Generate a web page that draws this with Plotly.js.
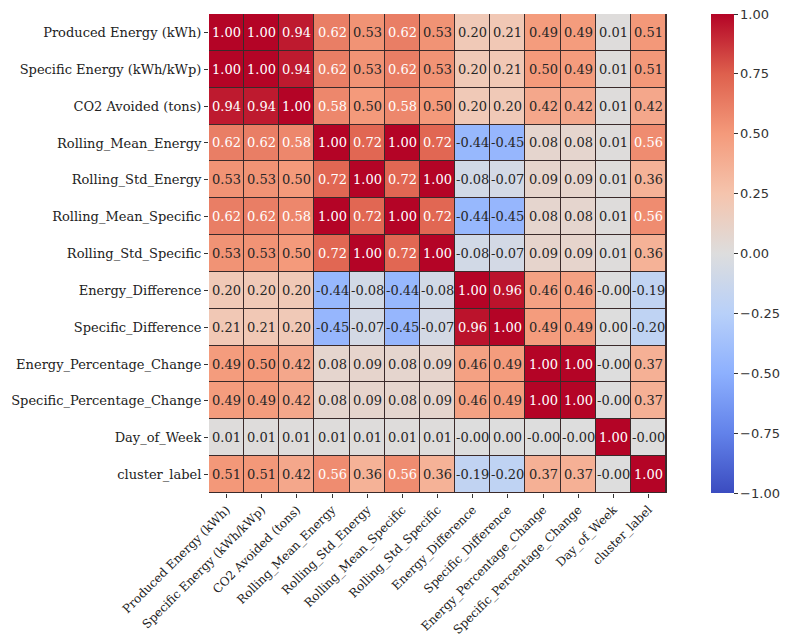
<!DOCTYPE html>
<html><head><meta charset="utf-8">
<script src="https://cdn.plot.ly/plotly-3.0.1.min.js"></script>
<style>html,body{margin:0;padding:0;background:#fff}#c{width:793px;height:640px}</style>
</head><body><div id="c"></div>
<script>
const yLabels = ["Produced Energy (kWh)","Specific Energy (kWh/kWp)","CO2 Avoided (tons)","Rolling_Mean_Energy","Rolling_Std_Energy","Rolling_Mean_Specific","Rolling_Std_Specific","Energy_Difference","Specific_Difference","Energy_Percentage_Change","Specific_Percentage_Change","Day_of_Week","cluster_label"];
const xLabels = yLabels.slice();
const corr = [
 [1.00,1.00,0.94,0.62,0.53,0.62,0.53,0.20,0.21,0.49,0.49,0.01,0.51],
 [1.00,1.00,0.94,0.62,0.53,0.62,0.53,0.20,0.21,0.50,0.49,0.01,0.51],
 [0.94,0.94,1.00,0.58,0.50,0.58,0.50,0.20,0.20,0.42,0.42,0.01,0.42],
 [0.62,0.62,0.58,1.00,0.72,1.00,0.72,-0.44,-0.45,0.08,0.08,0.01,0.56],
 [0.53,0.53,0.50,0.72,1.00,0.72,1.00,-0.08,-0.07,0.09,0.09,0.01,0.36],
 [0.62,0.62,0.58,1.00,0.72,1.00,0.72,-0.44,-0.45,0.08,0.08,0.01,0.56],
 [0.53,0.53,0.50,0.72,1.00,0.72,1.00,-0.08,-0.07,0.09,0.09,0.01,0.36],
 [0.20,0.20,0.20,-0.44,-0.08,-0.44,-0.08,1.00,0.96,0.46,0.46,-0.001,-0.19],
 [0.21,0.21,0.20,-0.45,-0.07,-0.45,-0.07,0.96,1.00,0.49,0.49,0.001,-0.20],
 [0.49,0.50,0.42,0.08,0.09,0.08,0.09,0.46,0.49,1.00,1.00,-0.001,0.37],
 [0.49,0.49,0.42,0.08,0.09,0.08,0.09,0.46,0.49,1.00,1.00,-0.001,0.37],
 [0.01,0.01,0.01,0.01,0.01,0.01,0.01,-0.001,0.001,-0.001,-0.001,1.00,-0.001],
 [0.51,0.51,0.42,0.56,0.36,0.56,0.36,-0.19,-0.20,0.37,0.37,-0.001,1.00]
];
const cbTicks = [1.0,0.75,0.5,0.25,0,-0.25,-0.5,-0.75,-1.0];

const coolwarm = [
 [0.0,'rgb(59,76,192)'],[0.125,'rgb(98,130,234)'],[0.25,'rgb(141,176,254)'],
 [0.375,'rgb(184,208,249)'],[0.5,'rgb(221,221,221)'],[0.625,'rgb(245,196,173)'],
 [0.75,'rgb(244,154,123)'],[0.875,'rgb(222,96,77)'],[1.0,'rgb(180,4,38)']
];
const fmt = v => (v < 0 ? '-' : '') + Math.abs(v).toFixed(2);
const ann = [];
corr.forEach((row,i)=>row.forEach((v,j)=>{
  ann.push({x:xLabels[j], y:yLabels[i], text:fmt(v), showarrow:false,
    font:{family:'DejaVu Serif', size:13, color: v>=0.55 ? '#ffffff' : '#262626'}});
}));
const trace = {type:'heatmap', z:corr, x:xLabels, y:yLabels, zmin:-1, zmax:1,
  colorscale:coolwarm, xgap:1, ygap:1, hoverinfo:'skip',
  colorbar:{x:1.097, xanchor:'left', xpad:0, ypad:0, y:0.5, yanchor:'middle', len:1, lenmode:'fraction',
    thickness:23, outlinewidth:0, tickvals:cbTicks, tickformat:'.2f', ticks:'outside',
    ticklen:4, tickcolor:'#333', tickfont:{family:'DejaVu Sans', size:13, color:'#333'}}};
const layout = {width:793, height:640, margin:{l:209, r:101, t:14, b:147},
  paper_bgcolor:'#fff', plot_bgcolor:'#3a2a2a', annotations:ann,
  xaxis:{type:'category', tickangle:-45, ticks:'outside', ticklen:4, tickcolor:'#333',
    tickfont:{family:'DejaVu Serif', size:12, color:'#222'}, showgrid:false, zeroline:false,
    showline:false, automargin:false},
  yaxis:{type:'category', autorange:'reversed', ticks:'outside', ticklen:4, tickcolor:'#333',
    tickfont:{family:'DejaVu Serif', size:13, color:'#222'}, showgrid:false, zeroline:false,
    showline:false, automargin:false}
};
Plotly.newPlot('c',[trace],layout,{staticPlot:true});
</script></body></html>
